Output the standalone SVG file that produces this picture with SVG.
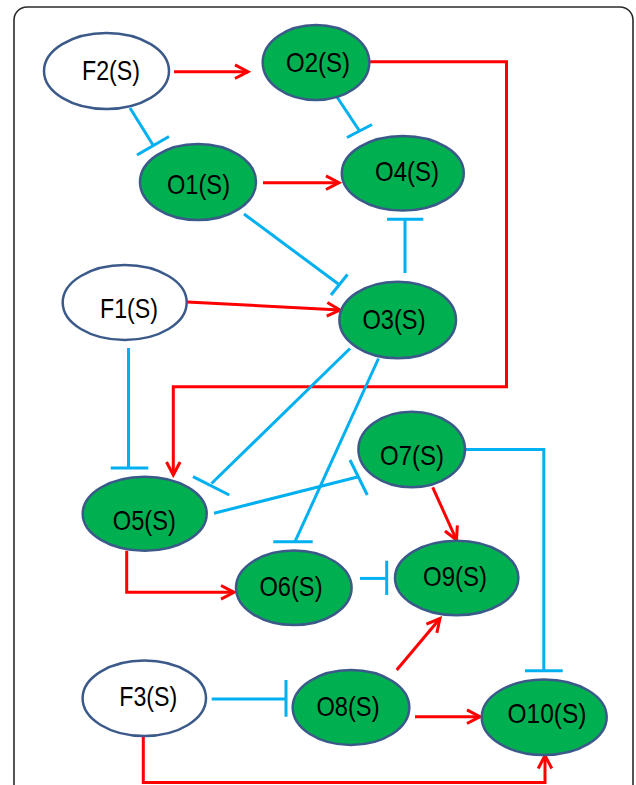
<svg xmlns="http://www.w3.org/2000/svg" width="636" height="785" viewBox="0 0 636 785">
  <style>
    .frame { fill: #ffffff; stroke: #2b2b2b; stroke-width: 1.6; }
    .node-g { fill: #00B050; stroke: #3B5A8A; stroke-width: 2.5; }
    .node-w { fill: #ffffff; stroke: #3B5A8A; stroke-width: 2.5; }
    .label { font-family: "Liberation Sans", Arial, sans-serif; font-size: 28px; fill: #000000; text-anchor: middle; }
    .act { fill: none; stroke: #FF0000; stroke-width: 3; marker-end: url(#arrow); }
    .inh { fill: none; stroke: #00B0F0; stroke-width: 3; }
  </style>
  <defs>
    <marker id="arrow" markerUnits="userSpaceOnUse" viewBox="-16 -10 20 20" refX="0" refY="0" markerWidth="20" markerHeight="20" orient="auto">
      <path d="M-13,-6.8 L0,0 L-13,6.8" fill="none" stroke="#FF0000" stroke-width="3" stroke-linejoin="miter"/>
    </marker>
  </defs>

  <rect class="frame" x="14" y="7" width="619" height="800" rx="13" ry="13"/>

  <!-- connectors: red = activation, blue = inhibition (T-bar) -->
  <g id="connectors">
    <!-- activation -->
    <path class="act" d="M174,71.7 L248,71.7"/>
    <path class="act" d="M263,182.7 L339,182.7"/>
    <path class="act" d="M187,302 L340,310"/>
    <path class="act" d="M369,61.7 L506.5,61.7 L506.5,386.7 L173.3,386.7 L173.3,475"/>
    <path class="act" d="M432.7,487.3 L456.5,540"/>
    <path class="act" d="M126.7,550.7 L126.7,592.3 L234,592.3"/>
    <path class="act" d="M396.7,670 L440,618.5"/>
    <path class="act" d="M415,716.7 L480,716.7"/>
    <path class="act" d="M143.3,736 L143.3,782.5 L545,782.5 L545,755.5"/>

    <!-- inhibition -->
    <g id="F2-O1"><path class="inh" d="M130,108 L153,145"/><path class="inh" d="M137,155 L169,136.5"/></g>
    <g id="O2-O4"><path class="inh" d="M337,97 L359.5,131"/><path class="inh" d="M347,137.5 L372,124.5"/></g>
    <g id="O3-O4"><path class="inh" d="M405,273 L405,219.3"/><path class="inh" d="M387,219.3 L423.3,219.3"/></g>
    <g id="O1-O3"><path class="inh" d="M244,214 L339,284.5"/><path class="inh" d="M331,295 L347.5,274.5"/></g>
    <g id="F1-O5"><path class="inh" d="M128.5,348 L128.5,468"/><path class="inh" d="M110.7,468 L148.3,468"/></g>
    <g id="O3-O5"><path class="inh" d="M350,348.5 L211.5,483.5"/><path class="inh" d="M193,476.7 L229.3,495"/></g>
    <g id="O3-O6"><path class="inh" d="M378.5,358.5 L295,541.7"/><path class="inh" d="M273.3,541.7 L312.7,541.7"/></g>
    <g id="O5-O7"><path class="inh" d="M214,513.3 L358.5,476.7"/><path class="inh" d="M350,460 L367.3,495"/></g>
    <g id="O6-O9"><path class="inh" d="M360,578.4 L386.7,578.4"/><path class="inh" d="M386.7,560.7 L386.7,595"/></g>
    <g id="O7-O10"><path class="inh" d="M465,449.4 L543.8,449.4 L543.8,670.7"/><path class="inh" d="M525,670.7 L562.7,670.7"/></g>
    <g id="F3-O8"><path class="inh" d="M211.7,699 L286,699"/><path class="inh" d="M286,680 L286,716.7"/></g>
  </g>

  <!-- nodes -->
  <g id="F2"><ellipse class="node-w" cx="106.5" cy="71" rx="62.5" ry="38"/><text class="label" x="111" y="80" textLength="58" lengthAdjust="spacingAndGlyphs">F2(S)</text></g>
  <g id="O2"><ellipse class="node-g" cx="316" cy="62.5" rx="53.3" ry="37.5"/><text class="label" x="318" y="72" textLength="64" lengthAdjust="spacingAndGlyphs">O2(S)</text></g>
  <g id="O1"><ellipse class="node-g" cx="198" cy="182" rx="58" ry="38"/><text class="label" x="198.5" y="194" textLength="63" lengthAdjust="spacingAndGlyphs">O1(S)</text></g>
  <g id="O4"><ellipse class="node-g" cx="402.8" cy="173.3" rx="61" ry="37.3"/><text class="label" x="407" y="180.5" textLength="64" lengthAdjust="spacingAndGlyphs">O4(S)</text></g>
  <g id="F1"><ellipse class="node-w" cx="124.7" cy="302.5" rx="62" ry="37.5"/><text class="label" x="129" y="318" textLength="58" lengthAdjust="spacingAndGlyphs">F1(S)</text></g>
  <g id="O3"><ellipse class="node-g" cx="397.7" cy="320" rx="58.3" ry="38.3"/><text class="label" x="394" y="329" textLength="63" lengthAdjust="spacingAndGlyphs">O3(S)</text></g>
  <g id="O7"><ellipse class="node-g" cx="411.7" cy="449.5" rx="53.3" ry="37.8"/><text class="label" x="412" y="465" textLength="64" lengthAdjust="spacingAndGlyphs">O7(S)</text></g>
  <g id="O5"><ellipse class="node-g" cx="144.7" cy="513.7" rx="62" ry="37"/><text class="label" x="144.3" y="530" textLength="63" lengthAdjust="spacingAndGlyphs">O5(S)</text></g>
  <g id="O6"><ellipse class="node-g" cx="293.8" cy="587.8" rx="57.8" ry="37.2"/><text class="label" x="291" y="596" textLength="63" lengthAdjust="spacingAndGlyphs">O6(S)</text></g>
  <g id="O9"><ellipse class="node-g" cx="456.7" cy="578" rx="61.7" ry="37.3"/><text class="label" x="455" y="586" textLength="64" lengthAdjust="spacingAndGlyphs">O9(S)</text></g>
  <g id="F3"><ellipse class="node-w" cx="144.3" cy="698.3" rx="61.7" ry="37.7"/><text class="label" x="148.3" y="706" textLength="58" lengthAdjust="spacingAndGlyphs">F3(S)</text></g>
  <g id="O8"><ellipse class="node-g" cx="351" cy="707.5" rx="58.3" ry="37.5"/><text class="label" x="348" y="716" textLength="63" lengthAdjust="spacingAndGlyphs">O8(S)</text></g>
  <g id="O10"><ellipse class="node-g" cx="544.2" cy="717.2" rx="62.5" ry="37.8"/><text class="label" x="547" y="723" textLength="79" lengthAdjust="spacingAndGlyphs">O10(S)</text></g>
</svg>
